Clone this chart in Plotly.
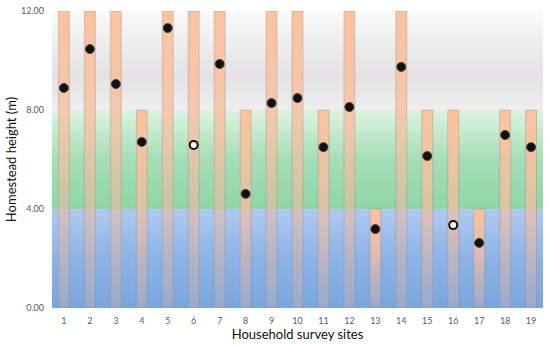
import plotly.graph_objects as go

# ---- data ----
sites = list(range(1, 20))
bar_tops = [12, 12, 12, 8, 12, 12, 12, 8, 12, 12, 8, 12, 4, 12, 8, 8, 4, 8, 8]
heights = [8.89, 10.46, 9.05, 6.71, 11.31, 6.59, 9.86, 4.61, 8.28, 8.48,
           6.50, 8.12, 3.19, 9.74, 6.14, 3.35, 2.63, 6.99, 6.50]
open_sites = [6, 16]
band_edges = [0, 4, 8, 12]
band_scales = [
    [[0, '#79A5DE'], [0.5, '#8DB3E6'], [1, '#B0CAF0']],
    [[0, '#8ED6A5'], [0.5, '#A6DEB7'], [1, '#DEF3E1']],
    [[0, '#EFEFEF'], [0.35, '#E4E2E4'], [1, '#FAFAFA']],
]
y_ticks = [0, 4, 8, 12]
y_ticktext = ['0.00', '4.00', '8.00', '12.00']

x_lo, x_hi = 0.54, 19.46
half_w = 0.21

fig = go.Figure()

# background bands
for lo, hi, cs in zip(band_edges[:-1], band_edges[1:], band_scales):
    fig.add_trace(go.Scatter(
        x=[x_lo, x_lo, x_hi, x_hi, x_lo], y=[lo, hi, hi, lo, lo],
        mode='lines', fill='toself', line=dict(width=0, color='rgba(0,0,0,0)'),
        fillgradient=dict(type='vertical', colorscale=cs, start=lo, stop=hi),
        hoverinfo='skip', showlegend=False))

# bars grouped by top value
for top in sorted(set(bar_tops)):
    xs, ys = [], []
    for s, t in zip(sites, bar_tops):
        if t != top:
            continue
        xs += [s - half_w, s - half_w, s + half_w, s + half_w, s - half_w, None]
        ys += [0, t, t, 0, 0, None]
    fig.add_trace(go.Scatter(
        x=xs, y=ys, mode='lines', fill='toself',
        line=dict(width=1, color='rgba(140,130,130,0.35)'),
        fillgradient=dict(type='vertical', start=0, stop=top,
                          colorscale=[[0, 'rgba(210,178,172,0.35)'],
                                      [0.5, 'rgba(245,190,160,0.72)'],
                                      [1, 'rgba(251,194,158,1)']]),
        hoverinfo='skip', showlegend=False))

# points
filled_x = [s for s in sites if s not in open_sites]
filled_y = [h for s, h in zip(sites, heights) if s not in open_sites]
open_x = [s for s in sites if s in open_sites]
open_y = [h for s, h in zip(sites, heights) if s in open_sites]

fig.add_trace(go.Scatter(
    x=filled_x, y=filled_y, mode='markers',
    marker=dict(size=9, color='#111111', line=dict(width=1, color='#444444')),
    showlegend=False))
fig.add_trace(go.Scatter(
    x=open_x, y=open_y, mode='markers',
    marker=dict(size=8, color='white', line=dict(width=2, color='#111111')),
    showlegend=False))

fig.update_layout(
    width=550, height=346,
    margin=dict(l=52, r=7, t=11, b=38),
    paper_bgcolor='white', plot_bgcolor='white',
    font=dict(family='Lato, Open Sans, sans-serif'),
    showlegend=False,
    xaxis=dict(range=[x_lo, x_hi], tickvals=sites, ticktext=[str(s) for s in sites],
               showgrid=False, zeroline=False, showline=False, ticks='',
               automargin=False, ticklabelstandoff=6,
               tickfont=dict(size=9, color='#595959'),
               title=dict(text='Household survey sites', font=dict(size=13, color='#111111'),
                          standoff=2)),
    yaxis=dict(range=[0, 12], tickvals=y_ticks, ticktext=y_ticktext,
               showgrid=False, zeroline=False, showline=False, ticks='',
               automargin=False, ticklabelstandoff=7,
               tickfont=dict(size=9, color='#595959'),
               title=dict(text='Homestead height (m)', font=dict(size=13, color='#111111'),
                          standoff=1)),
)

# remove the browser's default 8px body margin so the figure sits at the page origin
fig.write_html('out.html', config={'displayModeBar': False},
               post_script="document.body.style.margin='0';")
